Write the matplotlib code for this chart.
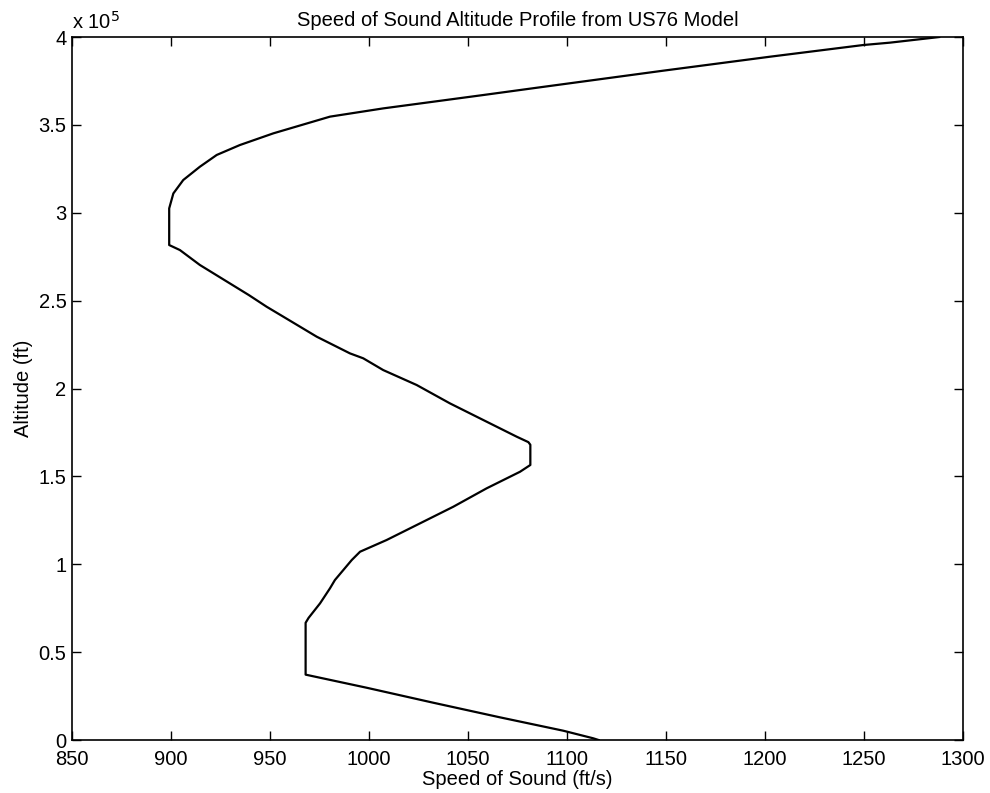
import matplotlib
matplotlib.use('Agg')
import matplotlib.pyplot as plt
from matplotlib.ticker import FuncFormatter

plt.rcParams['font.family'] = ['Liberation Sans', 'DejaVu Sans']

# speed of sound (ft/s) vs altitude (ft)
speed = [1116, 1113.3, 1098.1, 1066.2, 1032.5, 998.8, 968, 968, 969.5,
         975.3, 980.3, 982.8, 991.3, 995.5, 1008.9, 1025.8, 1042.6, 1059.4,
         1076.3, 1081.5, 1081.5, 1080.5, 1074.6, 1057.7, 1040.9, 1024.1,
         1007.2, 997.1, 990.4, 973.6, 956.7, 948.3, 939.3, 914.6,
         904.5, 899.1, 899.1, 901.2, 906.2, 914.6, 923.1, 934.8, 951.7,
         980.3, 1007.2, 1032.5, 1057.7, 1086.4, 1148.6, 1202.5,
         1249.6, 1263.1, 1288]
altitude = [0, 970, 5310, 12900, 21220, 29760, 37200, 66700, 69500,
            77780, 86320, 91040, 102420, 107150, 113800, 123300, 132750,
            143200, 152650, 156500, 168000, 169500, 172600, 182100, 191550,
            202000, 210500, 217200, 220000, 229500, 240900, 246550, 253200,
            270300, 278800, 281650, 302500, 311000, 318640, 326200,
            332900, 338550, 345200, 354700, 359400, 363200, 367000, 371400,
            380850, 388800, 395450, 396800, 400000]

x_ticks = [850, 900, 950, 1000, 1050, 1100, 1150, 1200, 1250, 1300]
y_ticks = [0, 50000, 100000, 150000, 200000, 250000, 300000, 350000, 400000]

fig = plt.figure(figsize=(9.9, 7.93), dpi=100)
ax = fig.add_axes([0.0727, 0.0668, 0.9, 0.8865])

ax.plot(speed, altitude, color='black', linewidth=1.6)

ax.set_xlim(850, 1300)
ax.set_ylim(0, 400000)
ax.set_xticks(x_ticks)
ax.set_yticks(y_ticks)
ax.yaxis.set_major_formatter(FuncFormatter(lambda v, p: '%g' % (v / 1e5)))
ax.tick_params(direction='in', length=6.5, width=1.0, top=True, right=True,
               labelsize=14.5)
ax.tick_params(axis='x', pad=7)
ax.tick_params(axis='y', pad=4)
for s in ax.spines.values():
    s.set_linewidth(1.2)

ax.set_title('Speed of Sound Altitude Profile from US76 Model', fontsize=14.5, pad=8)
ax.set_xlabel('Speed of Sound (ft/s)', fontsize=14.5, labelpad=1)
ax.set_ylabel('Altitude (ft)', fontsize=14.5, labelpad=4)
ax.text(0.0, 1.006, r'x 10$^5$', transform=ax.transAxes, fontsize=14.5,
        ha='left', va='bottom')

plt.savefig('out.png', dpi=100)
